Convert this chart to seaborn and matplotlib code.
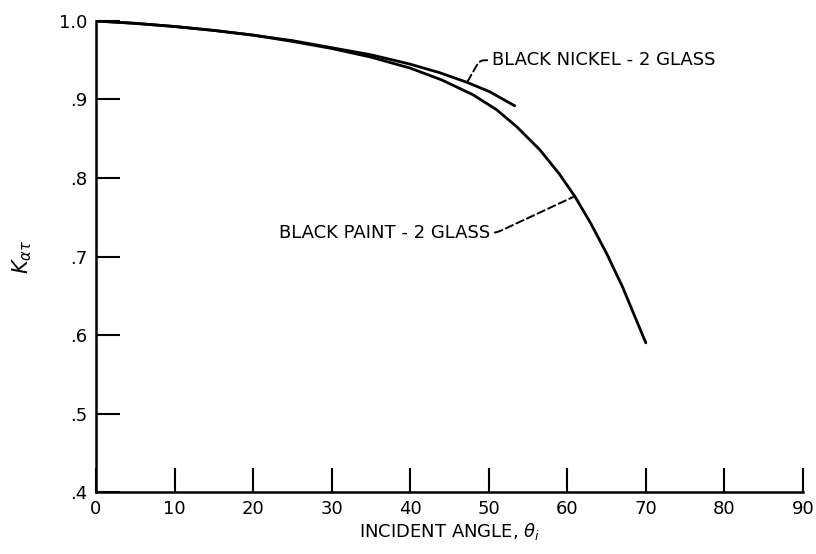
import numpy as np
import pandas as pd
import matplotlib
matplotlib.use("Agg")
import matplotlib.pyplot as plt
import seaborn as sns

# ---------- data ----------
paint_angle = [0, 5, 10, 15, 20, 25, 30, 35, 40, 44, 48, 51, 53.6, 56.5, 59, 61, 63, 65, 67, 70]
paint_k = [1.000, 0.997, 0.993, 0.988, 0.982, 0.974, 0.965, 0.954, 0.940, 0.925, 0.906,
           0.887, 0.865, 0.836, 0.805, 0.776, 0.742, 0.704, 0.662, 0.590]

nickel_angle = [0, 5, 10, 15, 20, 25, 30, 35, 40, 43.8, 47.2, 50.1, 53.3]
nickel_k = [1.000, 0.997, 0.993, 0.988, 0.982, 0.975, 0.966, 0.957, 0.945, 0.934,
            0.922, 0.910, 0.892]

x_ticks = [0, 10, 20, 30, 40, 50, 60, 70, 80, 90]
y_ticks = [0.4, 0.5, 0.6, 0.7, 0.8, 0.9, 1.0]
y_tick_labels = [".4", ".5", ".6", ".7", ".8", ".9", "1.0"]

df = pd.concat([
    pd.DataFrame({"angle": paint_angle, "k": paint_k, "series": "paint"}),
    pd.DataFrame({"angle": nickel_angle, "k": nickel_k, "series": "nickel"}),
])

# ---------- style ----------
sns.set_style("ticks")
plt.rcParams["font.family"] = ["DejaVu Sans"]
plt.rcParams["mathtext.fontset"] = "dejavusans"
for key in ["text.color", "axes.labelcolor", "xtick.color", "ytick.color", "axes.edgecolor"]:
    plt.rcParams[key] = "black"

fig = plt.figure(figsize=(8.16, 5.54), dpi=100)
ax = fig.add_axes([0.1176, 0.1119, 0.8664, 0.8502])

sns.lineplot(
    data=df, x="angle", y="k", units="series", estimator=None,
    color="black", linewidth=2, sort=False, ax=ax
)

ax.set_xlim(0, 90)
ax.set_ylim(0.4, 1.0)
ax.set_xticks(x_ticks)
ax.set_yticks(y_ticks)
ax.set_yticklabels(y_tick_labels)

ax.tick_params(direction="in", length=17, width=1.5, labelsize=13, pad=6)
for side in ["left", "bottom"]:
    ax.spines[side].set_linewidth(1.8)
sns.despine(ax=ax)

ax.set_xlabel(r"INCIDENT ANGLE, $\theta_i$", fontsize=13, labelpad=2)
ax.set_ylabel(r"$K_{\alpha\tau}$", fontsize=15, labelpad=18)

# ---------- curve labels ----------
ax.annotate(
    "BLACK NICKEL - 2 GLASS", xy=(47.3, 0.923), xytext=(50.4, 0.950),
    ha="left", va="center", fontsize=13,
    arrowprops=dict(arrowstyle="-", linestyle=(0, (4, 2)), linewidth=1.4, color="black",
                    connectionstyle="angle,angleA=180,angleB=60,rad=5", shrinkA=1, shrinkB=0)
)
ax.annotate(
    "BLACK PAINT - 2 GLASS", xy=(61.0, 0.777), xytext=(50.2, 0.730),
    ha="right", va="center", fontsize=13,
    arrowprops=dict(arrowstyle="-", linestyle=(0, (4, 2)), linewidth=1.4, color="black",
                    connectionstyle="angle,angleA=0,angleB=25,rad=6", shrinkA=1, shrinkB=0)
)

fig.savefig("out.png", dpi=100)
